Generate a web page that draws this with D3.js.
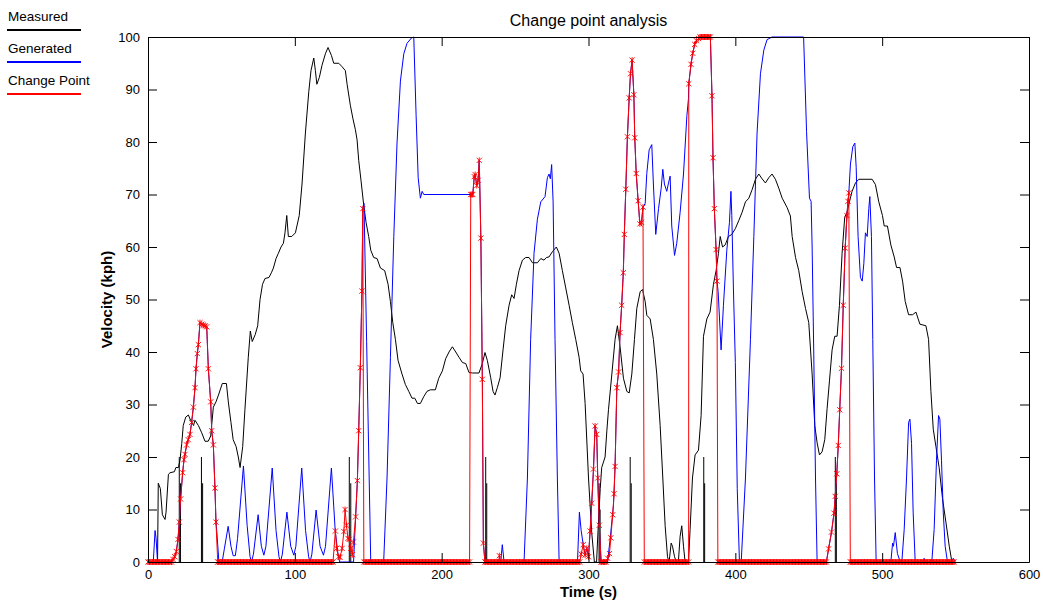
<!DOCTYPE html>
<html><head><meta charset="utf-8">
<script src="https://cdn.jsdelivr.net/npm/d3@7"></script>
<style>
body{margin:0;background:#fff;}
svg{display:block;font-family:"Liberation Sans",Arial,sans-serif;}
</style></head>
<body><svg id="c" width="1043" height="601"></svg>
<script>
// ---------- data ----------
const xTicks = [0,100,200,300,400,500,600];
const yTicks = [0,10,20,30,40,50,60,70,80,90,100];
const legendNames = ["Measured","Generated","Change Point"];
const legendColors = ["#000000","#0000ff","#ff0000"];

// Measured velocity [time s, kph]
const measured = [[0,0],[6.5,0],[7,15],[8.4,14],[9.8,9],[11.6,8.1],[12.3,9.5],[13.9,16.7],[15,17],[18,17.2],[19,18],[20.7,18],[21.8,19.4],[23,22.6],[24,26],[25.7,27.6],[27.5,28],[29,27],[31,26],[32,27],[34.3,26],[36.6,24.6],[38.8,23],[41,23],[42.7,24],[44.5,29.5],[46.3,30.5],[48,31.8],[50.6,34],[53.4,34],[54.7,30.5],[56.5,26.6],[58,23.3],[60,22],[61.5,20],[62.7,18],[64.5,22],[66,29],[68.3,39],[69.7,44],[71,42],[73,43.3],[74.7,45],[76.3,50],[78,52.9],[79.7,54],[82.4,54.2],[84.2,55.2],[85.4,56],[87.2,57.8],[88.8,58.8],[90.6,60],[92.2,60.7],[93.3,62.7],[94.5,66],[95.6,62],[97.9,62],[100.4,62.7],[103,66],[104.9,72],[107.2,81.7],[109.5,89.6],[111,93.6],[112.9,96],[114,93.6],[115,91],[116.7,92.3],[118.5,94.6],[120.8,96.8],[122.6,98],[124.9,96.5],[126.5,95],[129.9,95],[132,94.4],[134.4,93.6],[135.6,91],[137.8,87],[139.6,84.4],[141.2,82.4],[142.4,80.4],[143.5,76.5],[145.1,72.6],[146.9,68],[148.5,64.7],[150.3,62],[151.7,59.4],[153.7,58],[156,57.8],[158.3,56],[161.2,55.5],[163.5,52.9],[165.1,49.6],[166.7,45.6],[168.5,42.4],[170.3,38.4],[173,35.8],[175.3,33.8],[177.6,32.5],[179.8,31.2],[181.7,31.2],[183.5,30.2],[185.5,30.2],[187.8,31.5],[190,32.5],[192.3,32.8],[195.7,32.8],[198,35],[200.5,36.4],[202.7,38.7],[205,40],[207.3,41],[209.6,40],[211.8,39],[214.1,38],[216.4,37.8],[218.6,36.1],[220.9,36],[225.4,36],[227.7,37.8],[229.5,39.9],[231.1,38.4],[233.4,35.1],[235,32.5],[236.3,31.8],[237.9,33.2],[239.8,35.1],[241.8,40.4],[243.6,45],[245.9,48.9],[247.7,50.9],[249.3,50.2],[250.9,52.9],[252.7,55.5],[255,57.5],[257.2,58],[259.5,58],[261.8,57],[265.2,57],[267.5,57.8],[269.7,57.5],[271.3,58],[273.1,58.1],[275.4,59.1],[278.1,60],[280,58.8],[282.2,55.5],[284.5,52.2],[286.8,48.9],[289,45.6],[291.3,42.4],[293.6,39],[294.7,36.4],[296.3,35.8],[297.7,30.2],[300,16],[302.2,5.6],[304,0],[305.5,0],[306.5,6],[308,14],[309,18],[311.3,20],[312.5,25],[313.6,29],[315.9,35.8],[318.1,42.4],[319.7,45],[321.5,41],[323.8,35],[326.1,32.5],[327.7,32.2],[329.5,35.8],[331.3,42.4],[332.9,48.3],[335.2,51.5],[336.8,51.9],[338.6,49.6],[339.7,47],[342,46.3],[344.2,42.4],[346.5,35.8],[348.8,26],[350.6,16],[352.2,6.9],[353.8,1],[354.9,0],[356.3,3.6],[357.2,3],[358.6,1],[359.9,0],[361.2,0],[362.4,4.9],[363.5,6.9],[364.7,3],[365.8,0],[368.1,0],[369.2,6.2],[370.8,16],[372.6,20.4],[374.9,21.3],[376.7,27.9],[378.3,43],[380.6,46.3],[382.8,47.6],[385.1,52.9],[386.9,55.5],[388.5,58.8],[389.7,62],[391.3,60],[393.1,60.4],[395.3,62],[397.6,62.4],[400,63.5],[402.3,65],[404.6,66.6],[406.9,68.6],[409.2,69.3],[411.4,70.9],[413.7,72.9],[416,73.9],[418.2,73],[420.5,72.2],[422.8,73.2],[425,73.9],[427.3,72.9],[429.6,71.2],[431.9,69.3],[435.3,67.5],[437.5,65.9],[438.7,62],[441,58],[443.2,55.5],[445.5,51.5],[447.8,48.3],[450,45.6],[452.3,35.8],[454.1,26],[455.7,22.7],[457.3,20.4],[459.1,21],[460.9,23.3],[462.5,29.2],[464.1,34.5],[465.9,40.4],[467.7,43],[469.3,43],[470.9,48.9],[472.7,58.8],[474.5,65.7],[476.1,66.6],[477.7,68.6],[479.5,70.6],[481.8,72.2],[484.1,72.9],[493.2,72.9],[495.4,71.9],[497.7,68.6],[500.2,66],[501.4,64],[503.6,64],[505.9,60.4],[508.2,58.1],[509.8,56.1],[512.1,56.1],[513.9,53.5],[515.7,49.6],[518,47.1],[520.7,47.1],[523,47.6],[525.7,45.3],[529.8,45],[531.6,42.4],[533.2,32.5],[534.8,25.3],[536.6,22],[538.8,18],[541.1,12.1],[543.4,7.6],[545.7,3],[547.5,0]];

// Generated velocity [time s, kph]
const generated = [[0,0],[3.6,0],[4.8,6],[5.5,4.5],[6.5,0],[16,0],[17,0.5],[18.2,1],[19.3,2],[20.4,4.3],[21.3,7.6],[22.2,12],[23.6,17],[24.5,19.5],[25.2,20.5],[26.3,22.3],[27.4,23.3],[28.6,24.3],[29.7,26.6],[30.9,29.5],[32,33.2],[32.7,36.8],[33.6,39.7],[34.3,41.4],[35.4,45.6],[36.6,45.3],[37.7,45.1],[38.8,45],[40,44.8],[41.1,36.8],[42.7,30.5],[43.4,25],[44.5,22.3],[45.6,14.1],[46.3,7.6],[46.8,6],[48.3,0],[50.5,0],[52,2.5],[54.6,6.8],[56.5,3],[58,1.2],[59.5,1.2],[61,4.5],[65,18.3],[67.5,7],[69.5,1],[70.5,0],[71.8,1.5],[75,9],[77.2,3],[78.9,1.3],[80.3,3],[84.6,17.9],[87.2,6],[89.2,1],[90.2,0],[91.5,1.5],[94.6,9.5],[97.2,3],[99.3,1.3],[100.7,3],[104.7,17.9],[107.3,6],[109.4,1],[110.4,0],[111.6,1.5],[114.5,9.9],[117.2,3],[119.5,1.3],[120.9,3],[124.9,17.9],[127.5,6],[129.6,1],[130.6,0],[140,0],[141.4,8.6],[142.6,15.5],[143.5,25],[144.6,37],[145.7,51.6],[146.3,67.3],[147.1,68.3],[148.9,42],[151.7,0],[160.5,0],[162.8,16],[165.1,39],[167.4,62],[169.6,79.8],[171.9,91.6],[174.2,96.8],[176.4,98.8],[179.4,99.8],[181,100],[182.6,85],[184,73.2],[185.5,69.3],[186.7,70.6],[187.8,70],[219.8,70],[220.5,70],[221.2,70],[222.2,73.4],[222.8,73.8],[223.9,71.7],[224.8,72.7],[225.6,76.5],[226.7,61.7],[227.7,34.8],[228.4,3.6],[229.5,0],[240.2,0],[241.3,3.3],[242.5,0],[256.1,0],[258.4,16],[260.6,42.4],[262.9,58.8],[265.2,65.3],[267.5,68.6],[270.4,69.6],[272,73.2],[273.1,73.9],[274,73],[274.9,75.7],[275.9,68.6],[277.2,42.4],[278.8,16],[280,0],[292.5,0],[293.8,9.5],[295,6],[296.4,3.3],[297.7,1.3],[298.8,2.6],[300,1],[301.1,5.9],[302.2,11.2],[303.4,17.7],[304.5,25.9],[305.6,24.3],[306.3,16],[307.3,7],[308.6,0],[313,0],[314.7,4.3],[317,10.8],[318.1,18.2],[319.3,33.2],[320.5,36.2],[321.5,43.7],[322.6,48.9],[323.7,55.1],[324.4,62.4],[325.4,71],[326.5,81],[327.7,88.4],[328.6,93],[329.7,95.6],[330.9,89],[331.5,80.8],[332.5,74],[333.8,68.8],[335,64.4],[336.1,64.7],[337.1,67.6],[338.6,68.3],[339.7,74],[341.3,78.5],[343.1,79.5],[344.2,72],[345.8,62.4],[347.7,67.3],[349.5,71.2],[350.6,74.8],[351.7,72],[353.3,70.6],[354.5,72.2],[355.6,73.5],[356.7,64],[358.6,58.4],[360.1,60.7],[362.4,66.6],[364.7,73.9],[367,85],[368.1,88.3],[368.3,91.1],[369.8,94.8],[371,96.9],[372.3,98.6],[373.5,99.3],[375,99.7],[376,100],[383,100],[384.1,88.8],[384.8,77],[385.7,67.3],[386.9,59.5],[387.5,53.5],[388.3,51.5],[390.3,40.4],[391.9,48.9],[394.2,59.4],[396,64.7],[397,70.6],[397.6,66],[398.7,52],[400,38],[401.3,14],[402.8,0],[404,0],[406.9,16],[410.3,42.4],[412.6,62],[414.8,81.7],[417.1,93],[419.4,97.5],[421.6,99.5],[425,100],[446.5,100],[448.5,82],[450.5,69.3],[451.6,68.7],[452.3,60],[453.4,40],[454.6,16],[455.7,0],[462,0],[463.5,2.5],[465.5,5.7],[467.2,9.3],[468,12.5],[469.1,16.8],[470.1,22.2],[471.1,29],[472.3,36.9],[473.5,48.9],[474.8,59.8],[476,66],[476.7,68.7],[477.3,70.3],[478.4,75.8],[480,79.1],[481.4,79.8],[482.3,75.2],[483.6,62],[485.2,54.2],[486.4,53.5],[487.5,56.8],[488.6,62.7],[489.8,62],[490.9,67.3],[491.6,69.6],[492.7,62],[493.6,42.4],[494.8,16],[495.9,0],[505.9,0],[507.1,3.6],[507.7,3],[508.9,5.6],[510.4,1.6],[512,0.3],[513.4,0],[515,6.2],[516.6,16],[518,26.6],[518.9,27.2],[520,22.6],[521.1,9.5],[522.5,0],[527.5,0],[528.6,0.7],[529.5,0],[533.8,0],[535.4,6.2],[537,19.4],[538.4,27.9],[539.3,27.2],[540.4,19.4],[541.6,9.5],[542.9,3],[544.5,0],[547,0],[548.4,0.7],[549.7,0]];

// Change point segments (non-zero samples) [time s, kph]
const changePoints = [[17,0.5],[18.2,1],[19.3,2],[20.4,4.3],[21.3,7.6],[22.2,12],[23.6,17],[24.5,19.5],[25.2,20.5],[26.3,22.3],[27.4,23.3],[28.6,24.3],[29.7,26.6],[30.9,29.5],[32,33.2],[32.7,36.8],[33.6,39.7],[34.3,41.4],[35.4,45.6],[36.6,45.3],[37.7,45.1],[38.8,45],[40,44.8],[41.1,36.8],[42.7,30.5],[43.4,25],[44.5,22.3],[45.6,14.1],[46.3,7.6],[47.5,0],
[127.6,5.9],[128.5,2.6],[129.8,1],[130.8,0.9],[132.2,2.6],[133.4,5.8],[134.2,10],[135.2,7],[136.2,4.5],[137,4.3],[138.1,2.6],[139.2,1.4],[139.9,3.8],[141.4,8.6],[142.6,15.5],[143.5,25],[144.6,37],[145.7,51.6],[146.3,67.3],
[219.8,70],[220.5,70],[221.2,70],[222.2,73.4],[222.8,73.8],[223.9,71.7],[224.8,72.7],[225.6,76.5],[226.7,61.7],[227.7,34.8],[228.4,3.6],[229.5,0],
[239.3,1.2],
[295,1.5],[296.4,3.3],[297.7,1.3],[298.8,2.6],[300,1],[301.1,5.9],[302.2,11.2],[303.4,17.7],[304.5,25.9],[305.6,24.3],[306.3,16],[307.3,7],[308.6,0],
[313.1,0.7],[314.3,1.6],[315.2,4.6],[316.5,9],[317.4,13],[318.1,18.2],[319.3,33.2],[320.5,36.2],[321.5,43.7],[322.6,48.9],[323.7,55.1],[324.4,62.4],[325.4,71],[326.5,81],[327.7,88.4],[328.6,93],[329.7,95.6],[330.9,89],[331.5,80.8],[332.5,74],[333.8,68.8],[335,64.4],[336.1,64.7],[337.1,67.6],
[368.2,0],[368.3,91.1],[369.8,94.8],[371,96.9],[372.3,98.6],[373.5,99.3],[375,99.7],[376,100],[377,100],[378,100],[379,100],[380,100],[381,100],[382,100],[383,100],[384.1,88.8],[384.8,77],[385.7,67.3],[386.9,59.5],[387.5,53.5],[388.1,0],
[463.5,2.5],[465.5,5.7],[467.2,9.3],[468,12.5],[469.1,16.8],[470.1,22.2],[471.1,29],[472.3,36.9],[473.5,48.9],[474.8,59.8],[476,66],[476.7,68.7],[477.3,70.3],[478.3,0]];
// Spans (inclusive, seconds) where the change-point series sits at 0, sampled every second
const changeZeroRuns = [[0,16],[48,126],[147,219],[230,294],[309,312],[338,367],[389,462],[479,549]];

// Black vertical marks [time s, height kph]
const markTimes = [21.3,22.1,36.4,37.2,137.1,138.1,230,230.7,307.2,307.9,328.4,329.1,378.5,379.1,468.1,468.8];
const markHeights = [20,15,20,15,20,15,20,15,15,10,20,15,20,15,20,15];

// ---------- chart ----------
const svg = d3.select("#c");
const L=148, R=1029, T=37, B=562;
const x = d3.scaleLinear().domain([0,600]).range([L,R]);
const y = d3.scaleLinear().domain([0,100]).range([B,T]);
const font = '"Liberation Sans",Arial,sans-serif';

// build change point series
const cpZeros = [];
changeZeroRuns.forEach(([a,b])=>{ for(let t=a;t<=b;t++) cpZeros.push([t,0]); });
const cpAll = changePoints.concat(cpZeros).sort((p,q)=>p[0]-q[0]);

const line = d3.line().x(d=>x(d[0])).y(d=>y(d[1]));

const plot = svg.append("g");
plot.append("path").datum(measured).attr("d",line)
  .attr("fill","none").attr("stroke","#000").attr("stroke-width",1);
plot.selectAll("line.mark").data(markTimes).join("line").attr("class","mark")
  .attr("x1",d=>x(d)).attr("x2",d=>x(d))
  .attr("y1",y(0)).attr("y2",(d,i)=>y(markHeights[i]))
  .attr("stroke","#000").attr("stroke-width",1);
plot.append("path").datum(generated).attr("d",line)
  .attr("fill","none").attr("stroke","#0000ff").attr("stroke-width",1);
plot.append("path").datum(cpAll).attr("d",line)
  .attr("fill","none").attr("stroke","#ff0000").attr("stroke-width",1);
const star = "M0,-3V3M-2.6,-2.6L2.6,2.6M-2.6,2.6L2.6,-2.6";
plot.selectAll("path.cp").data(cpAll).join("path").attr("class","cp")
  .attr("transform",d=>`translate(${x(d[0])},${y(d[1])})`)
  .attr("d",star).attr("fill","none").attr("stroke","#ff0000").attr("stroke-width",0.9);

// axes (MATLAB-style box with inward ticks)
function styleAxis(g){
  g.selectAll("path.domain").attr("stroke","#000");
  g.selectAll(".tick line").attr("stroke","#000");
  g.selectAll("text").attr("font-family",font).attr("font-size",13).attr("fill","#000");
}
svg.append("g").attr("transform",`translate(0,${B})`)
  .call(d3.axisBottom(x).tickValues(xTicks).tickSizeInner(-9).tickSizeOuter(0).tickPadding(8))
  .call(styleAxis);
svg.append("g").attr("transform",`translate(0,${T})`)
  .call(d3.axisTop(x).tickValues(xTicks).tickSizeInner(-9).tickSizeOuter(0).tickFormat(""))
  .call(styleAxis);
svg.append("g").attr("transform",`translate(${L},0)`)
  .call(d3.axisLeft(y).tickValues(yTicks).tickSizeInner(-9).tickSizeOuter(0).tickPadding(8))
  .call(styleAxis);
svg.append("g").attr("transform",`translate(${R},0)`)
  .call(d3.axisRight(y).tickValues(yTicks).tickSizeInner(-9).tickSizeOuter(0).tickFormat(""))
  .call(styleAxis);

// titles
svg.append("text").attr("x",(L+R)/2).attr("y",26).attr("text-anchor","middle")
  .attr("font-family",font).attr("font-size",16).text("Change point analysis");
svg.append("text").attr("x",(L+R)/2).attr("y",597).attr("text-anchor","middle")
  .attr("font-family",font).attr("font-size",15).attr("font-weight","bold").text("Time (s)");
svg.append("text").attr("transform",`translate(112,${(T+B)/2}) rotate(-90)`).attr("text-anchor","middle")
  .attr("font-family",font).attr("font-size",15).attr("font-weight","bold").text("Velocity (kph)");

// legend
const lg = svg.append("g");
legendNames.forEach((n,i)=>{
  const yy = 21 + i*32;
  lg.append("text").attr("x",8).attr("y",yy).attr("font-family",font).attr("font-size",13.5).text(n);
  lg.append("line").attr("x1",7).attr("x2",81).attr("y1",yy+9).attr("y2",yy+9)
    .attr("stroke",legendColors[i]).attr("stroke-width",2);
});
</script></body></html>
